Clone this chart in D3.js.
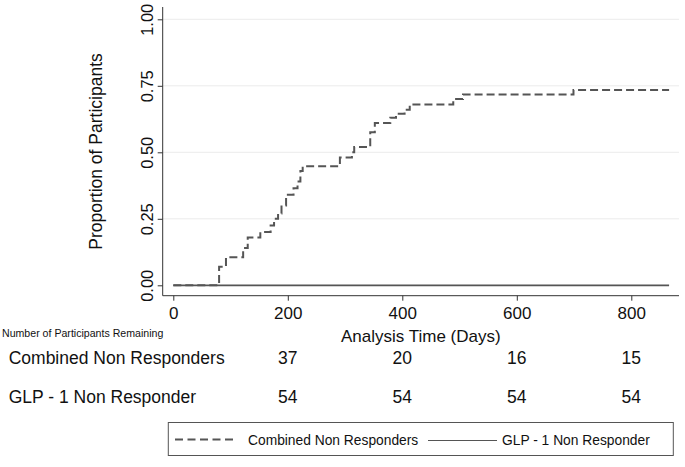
<!DOCTYPE html>
<html>
<head>
<meta charset="utf-8">
<script src="https://cdn.jsdelivr.net/npm/d3@7"></script>
<style>
  body { margin: 0; background: #fff; }
  text { font-family: "Liberation Sans", Arial, Helvetica, sans-serif; fill: #111; }
</style>
</head>
<body>
<div id="chart"></div>
<script>
// failure curve (Kaplan-Meier, 1 - S) for the combined non responders
var kmDays = [0, 80, 92, 122, 130, 152, 170, 176, 183, 189, 197, 210, 217, 222, 226, 291, 312, 316, 344, 352, 379, 389, 404, 413, 489, 506, 699, 866];
var kmProp = [0, 0.07, 0.105, 0.14, 0.18, 0.20, 0.225, 0.25, 0.27, 0.30, 0.34, 0.365, 0.39, 0.43, 0.448, 0.48, 0.50, 0.52, 0.575, 0.61, 0.63, 0.645, 0.66, 0.68, 0.70, 0.717, 0.734, 0.734];
// GLP-1 non responders: no events
var glpDays = [0, 866];
var glpProp = [0, 0];

var xTicks = [0, 200, 400, 600, 800];
var yTicks = [0, 0.25, 0.5, 0.75, 1];
var gridTicks = [0.25, 0.5, 0.75, 1];

var riskDays = [200, 400, 600, 800];
var riskCombined = [37, 20, 16, 15];
var riskGlp = [54, 54, 54, 54];
var groupNames = ["Combined Non Responders", "GLP - 1 Non Responder"];

var widthPage = 685;
var heightPage = 467;
var plotLeft = 162.7, plotRight = 679, plotTop = 7, plotBottom = 295.7;

var svg = d3.select("#chart").append("svg").attr("width", widthPage).attr("height", heightPage);

var x = d3.scaleLinear().domain([0, 800]).range([173.3, 631.3]);
var y = d3.scaleLinear().domain([0, 1]).range([285.3, 19.3]);

// grid
svg.append("g").selectAll("line").data(gridTicks).enter().append("line")
   .attr("x1", plotLeft).attr("x2", plotRight)
   .attr("y1", d => y(d)).attr("y2", d => y(d))
   .attr("stroke", "#ececec").attr("stroke-width", 1);

// axes
var yAxis = svg.append("g").attr("transform", `translate(${plotLeft},0)`)
   .call(d3.axisLeft(y).tickValues(yTicks).tickFormat(d3.format(".2f")).tickSize(5).tickSizeOuter(0));
yAxis.select(".domain").attr("d", `M0,${plotTop}V${plotBottom}`).attr("stroke", "#333");
yAxis.selectAll(".tick line").attr("stroke", "#333");
yAxis.selectAll(".tick text").attr("transform", "rotate(-90)").attr("x", 0).attr("y", -10).attr("dy", 0)
   .attr("text-anchor", "middle").style("font-size", "16.5px").attr("fill", "#111");

var xAxis = svg.append("g").attr("transform", `translate(0,${plotBottom})`)
   .call(d3.axisBottom(x).tickValues(xTicks).tickFormat(d3.format("d")).tickSize(5).tickSizeOuter(0));
xAxis.select(".domain").attr("d", `M${plotLeft},0H${plotRight}`).attr("stroke", "#333");
xAxis.selectAll(".tick line").attr("stroke", "#333");
xAxis.selectAll(".tick text").attr("y", 23).attr("dy", 0).style("font-size", "17px").attr("fill", "#111");
svg.selectAll(".tick text").attr("font-family", null);

// axis titles
svg.append("text").attr("transform", "translate(102,151.5) rotate(-90)").attr("text-anchor", "middle")
   .style("font-size", "17.5px").text("Proportion of Participants");
svg.append("text").attr("x", (plotLeft + plotRight) / 2).attr("y", 342).attr("text-anchor", "middle")
   .style("font-size", "17px").text("Analysis Time (Days)");

// curves
var step = d3.line().x(d => x(d[0])).y(d => y(d[1])).curve(d3.curveStepAfter);
svg.append("path").datum(d3.zip(glpDays, glpProp)).attr("d", step)
   .attr("fill", "none").attr("stroke", "#555").attr("stroke-width", 1.8);
svg.append("path").datum(d3.zip(kmDays, kmProp)).attr("d", step)
   .attr("fill", "none").attr("stroke", "#555").attr("stroke-width", 2).attr("stroke-dasharray", "8,4");

// risk table
svg.append("text").attr("x", 2).attr("y", 337).style("font-size", "10.6px").text("Number of Participants Remaining");
var rows = [riskCombined, riskGlp];
var rowY = [364, 403];
rows.forEach(function(vals, i){
    svg.append("text").attr("x", 8.7).attr("y", rowY[i]).style("font-size", "17.5px").text(groupNames[i]);
    svg.append("g").selectAll("text").data(vals).enter().append("text")
       .attr("x", (d, j) => x(riskDays[j])).attr("y", rowY[i]).attr("text-anchor", "middle")
       .style("font-size", "17.5px").text(d => d);
});

// legend
var legend = svg.append("g");
legend.append("rect").attr("x", 168.3).attr("y", 422.5).attr("width", 505).attr("height", 33)
   .attr("fill", "#fff").attr("stroke", "#555").attr("stroke-width", 1);
legend.append("line").attr("x1", 175).attr("x2", 234).attr("y1", 439.5).attr("y2", 439.5)
   .attr("stroke", "#555").attr("stroke-width", 1.8).attr("stroke-dasharray", "8,4.5");
legend.append("text").attr("x", 248).attr("y", 444.5).style("font-size", "13.8px").text(groupNames[0]);
legend.append("line").attr("x1", 428).attr("x2", 497).attr("y1", 440.5).attr("y2", 440.5)
   .attr("stroke", "#555").attr("stroke-width", 1.2);
legend.append("text").attr("x", 502).attr("y", 445).style("font-size", "13.8px").text(groupNames[1]);
</script>
</body>
</html>
